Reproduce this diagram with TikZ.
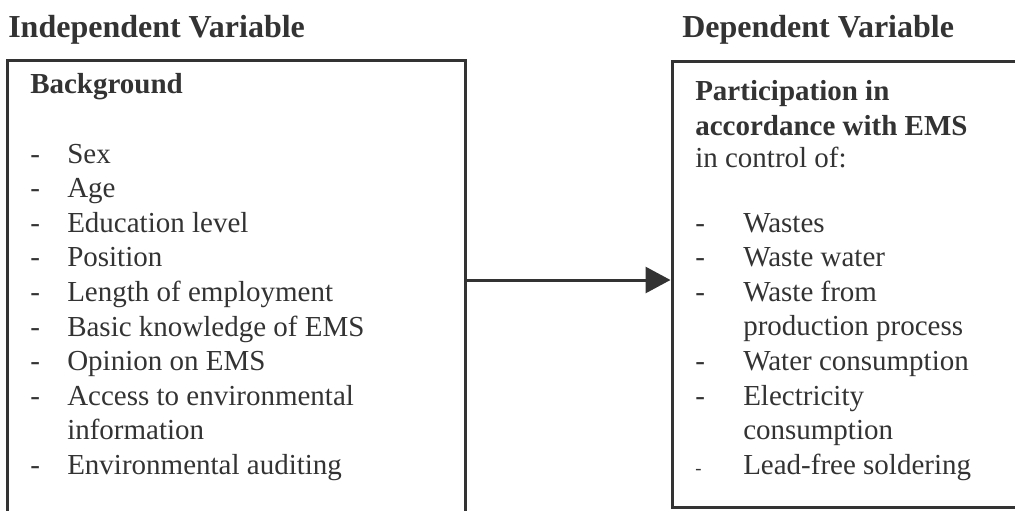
\documentclass[tikz,border=0pt]{standalone}
\usepackage{fontspec}
\setmainfont{Liberation Serif}
\usetikzlibrary{arrows.meta,fit}
\definecolor{ink}{HTML}{333333}
\tikzset{
  heading/.style={anchor=base west,inner sep=0pt,text=ink,font=\fontsize{24}{28}\selectfont\bfseries},
  title/.style={anchor=base west,inner sep=0pt,text=ink,font=\fontsize{21.75}{26}\selectfont\bfseries},
  item/.style={anchor=base west,inner sep=0pt,text=ink,font=\fontsize{21.75}{26}\selectfont},
  varbox/.style={draw=ink,line width=2.25pt,inner sep=0pt},
}
\begin{document}
\begin{tikzpicture}[x=0.75pt,y=-0.75pt]
	\useasboundingbox (0,0) rectangle (1015,511);
	\clip (0,0) rectangle (1015,511);
	\node[heading] (indeptitle) at (8,37) {Independent Variable};
	\node[heading] (deptitle) at (682,37) {Dependent Variable};
	\node[varbox,fit={(7.5,60) (465,540)}] (indep) {};
	\node[varbox,fit={(672,61) (1040,507)}] (dep) {};
	% independent side
	\node[title] (bg) at (30,93) {Background};
	\foreach \d/\txt [count=\i] in {-/Sex,-/Age,-/Education level,-/Position,-/Length of employment,-/Basic knowledge of EMS,-/Opinion on EMS,-/Access to environmental,{}/information,-/Environmental auditing}
	{
	    \node[item] (ldash\i) at (30,{163+34.6*(\i-1)}) {\d};
	    \node[item] (ltext\i) at (67,{163+34.6*(\i-1)}) {\txt};
	}
	% dependent side
	\node[title] (part) at (695,100) {Participation in};
	\node[title] (acc) at (695,135) {accordance with EMS};
	\node[item] (ctrl) at (695,167) {in control of:};
	\foreach \d/\txt [count=\i] in {-/Wastes,-/Waste water,-/Waste from,{}/production process,-/Water consumption,-/Electricity,{}/consumption,{\fontsize{14}{16}\selectfont -}/Lead-free soldering}
	{
	    \node[item] (rdash\i) at (695,{232+34.6*(\i-1)}) {\d};
	    \node[item] (rtext\i) at (743,{232+34.6*(\i-1)}) {\txt};
	}
	\coordinate (arr) at (0,280);
	\draw[ink,line width=2.25pt,-{Triangle[length=18.75pt,width=19.5pt]}] (indep.east |- arr) -- (dep.west |- arr);
\end{tikzpicture}
\end{document}
